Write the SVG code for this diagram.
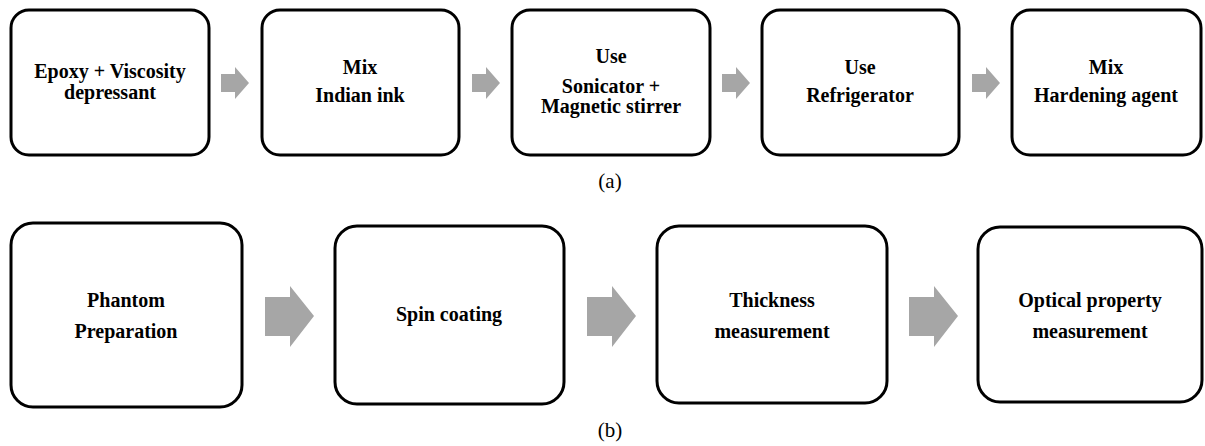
<svg xmlns="http://www.w3.org/2000/svg" width="1205" height="446" viewBox="0 0 1205 446">
<style>
.box{fill:#fff;stroke:#000;stroke-width:3}
.t{font-family:"Liberation Serif","Times New Roman",serif;font-weight:bold;font-size:20px;text-anchor:middle;fill:#000}
.cap{font-family:"Liberation Serif","Times New Roman",serif;font-size:21px;text-anchor:middle;fill:#000}
.arr{fill:#a6a6a6}
</style>
<rect width="1205" height="446" fill="#fff"/>
<g id="a1"><rect class="box" x="11" y="10" width="198" height="145" rx="18"/><text class="t" x="110" y="78">Epoxy + Viscosity</text><text class="t" x="110" y="99">depressant</text></g>
<g id="a2"><rect class="box" x="262" y="10" width="197" height="145" rx="18"/><text class="t" x="360" y="74">Mix</text><text class="t" x="360" y="102">Indian ink</text></g>
<g id="a3"><rect class="box" x="512" y="10" width="198" height="145" rx="18"/><text class="t" x="611" y="63">Use</text><text class="t" x="611" y="93">Sonicator +</text><text class="t" x="611" y="113">Magnetic stirrer</text></g>
<g id="a4"><rect class="box" x="762" y="10" width="197" height="145" rx="18"/><text class="t" x="860" y="74">Use</text><text class="t" x="860" y="102">Refrigerator</text></g>
<g id="a5"><rect class="box" x="1012" y="10" width="189" height="145" rx="18"/><text class="t" x="1106" y="74">Mix</text><text class="t" x="1106" y="102">Hardening agent</text></g>
<g id="b1"><rect class="box" x="11" y="223" width="231" height="184" rx="22"/><text class="t" x="126" y="307">Phantom</text><text class="t" x="126" y="338">Preparation</text></g>
<g id="b2"><rect class="box" x="335" y="226" width="229" height="178" rx="22"/><text class="t" x="449" y="321">Spin coating</text></g>
<g id="b3"><rect class="box" x="657" y="226" width="230" height="177" rx="22"/><text class="t" x="772" y="307">Thickness</text><text class="t" x="772" y="338">measurement</text></g>
<g id="b4"><rect class="box" x="978" y="227" width="224" height="175" rx="22"/><text class="t" x="1090" y="307">Optical property</text><text class="t" x="1090" y="338">measurement</text></g>
<g id="connectors">
<polygon class="arr" points="221,74 235,74 235,67 249,83 235,99 235,92 221,92"/>
<polygon class="arr" points="472,74 486,74 486,67 500,83 486,99 486,92 472,92"/>
<polygon class="arr" points="722,74 736,74 736,67 750,83 736,99 736,92 722,92"/>
<polygon class="arr" points="972,74 986,74 986,67 1000,83 986,99 986,92 972,92"/>
<polygon class="arr" points="265,297 290,297 290,286 314,316 290,347 290,336 265,336"/>
<polygon class="arr" points="587,297 612,297 612,286 636,316 612,347 612,336 587,336"/>
<polygon class="arr" points="909,297 934,297 934,286 958,316 934,347 934,336 909,336"/>
</g>
<text class="cap" x="610" y="188">(a)</text>
<text class="cap" x="610" y="437">(b)</text>
</svg>
